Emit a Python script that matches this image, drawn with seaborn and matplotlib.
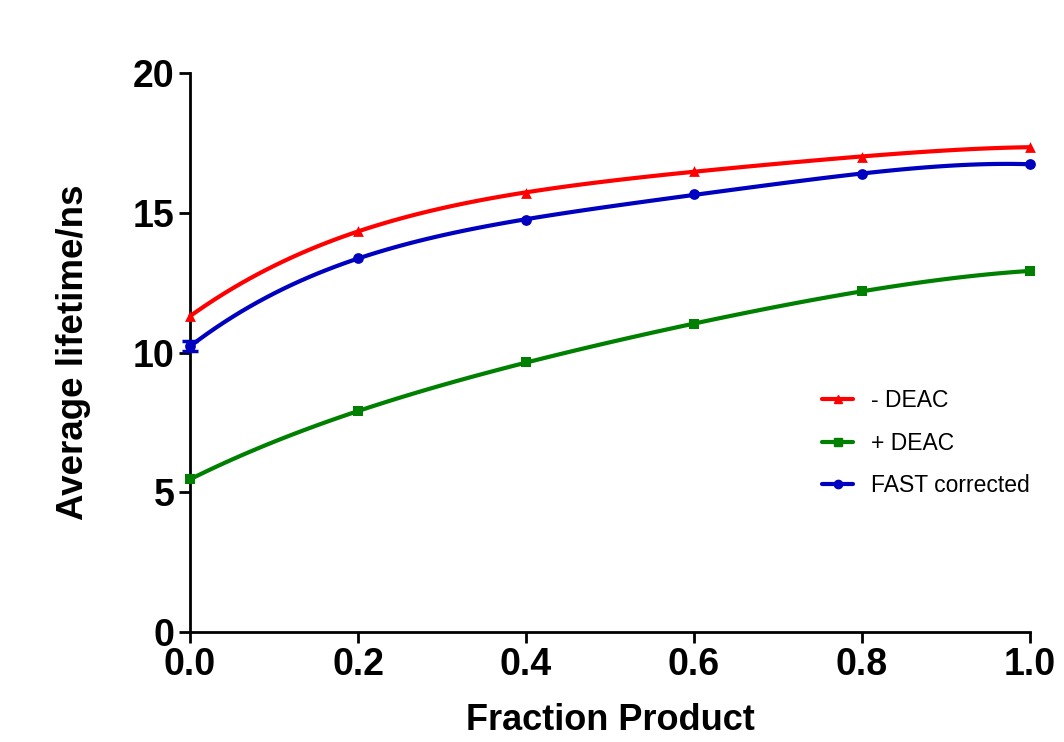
import numpy as np
import pandas as pd
import matplotlib
matplotlib.use("Agg")
import matplotlib.pyplot as plt
from matplotlib.lines import Line2D
import seaborn as sns

fraction = [0.0, 0.2, 0.4, 0.6, 0.8, 1.0]
minus_deac = [11.3, 14.35, 15.7, 16.5, 17.0, 17.35]
plus_deac = [5.47, 7.9, 9.66, 11.02, 12.2, 12.92]
fast_corrected = [10.22, 13.38, 14.74, 15.67, 16.39, 16.74]
fast_err = [0.18, 0.0, 0.0, 0.0, 0.0, 0.0]

series_names = ["- DEAC", "+ DEAC", "FAST corrected"]
series_vals = [minus_deac, plus_deac, fast_corrected]
colors = ["#ff0000", "#008000", "#0000c0"]
markers = ["^", "s", "o"]

sns.set_style("white")
plt.rcParams['font.family'] = ['Liberation Sans', 'DejaVu Sans']
plt.rcParams['text.color'] = 'black'
plt.rcParams['axes.labelcolor'] = 'black'

fig = plt.figure(figsize=(10.64, 7.42), dpi=100)
ax = fig.add_axes([0.1786, 0.148, 0.7894, 0.7536])

for name, vals, c, m in zip(series_names, series_vals, colors, markers):
    df = pd.DataFrame({"x": fraction, "y": vals})
    sns.regplot(data=df, x="x", y="y", order=4, ci=None, ax=ax,
                marker=m, color=c, truncate=True,
                scatter_kws={"s": 60, "clip_on": False, "zorder": 4, "linewidths": 0, "alpha": 1},
                line_kws={"lw": 3, "clip_on": False})

ax.errorbar(fraction[:1], fast_corrected[:1], yerr=fast_err[:1], fmt="none",
            ecolor=colors[2], elinewidth=2.5, capsize=6, capthick=2.5, clip_on=False, zorder=5)

ax.set_xlim(0, 1)
ax.set_ylim(0, 20)
ax.set_xticks([0.0, 0.2, 0.4, 0.6, 0.8, 1.0])
ax.set_xticklabels(["0.0", "0.2", "0.4", "0.6", "0.8", "1.0"])
ax.set_yticks([0, 5, 10, 15, 20])
for s in ["top", "right"]:
    ax.spines[s].set_visible(False)
for s in ["left", "bottom"]:
    ax.spines[s].set_linewidth(2)
    ax.spines[s].set_color("black")
ax.tick_params(axis="both", direction="out", length=8, width=2, colors="black",
               labelsize=27, pad=3, left=True, bottom=True)
for lab in ax.get_xticklabels() + ax.get_yticklabels():
    lab.set_fontweight("bold")

ax.set_xlabel("Fraction Product", fontsize=26, fontweight="bold", labelpad=14, color="black")
ax.set_ylabel("Average lifetime/ns", fontsize=26.5, fontweight="bold", labelpad=30, color="black")

handles = [Line2D([0], [0], color=c, marker=m, lw=3, markersize=6)
           for c, m in zip(colors, markers)]
ax.legend(handles, series_names, loc="center left", bbox_to_anchor=(0.728, 0.338),
          frameon=False, fontsize=16.5, handlelength=1.35, labelspacing=0.85,
          handletextpad=0.8)

fig.savefig("out.png", dpi=100)
